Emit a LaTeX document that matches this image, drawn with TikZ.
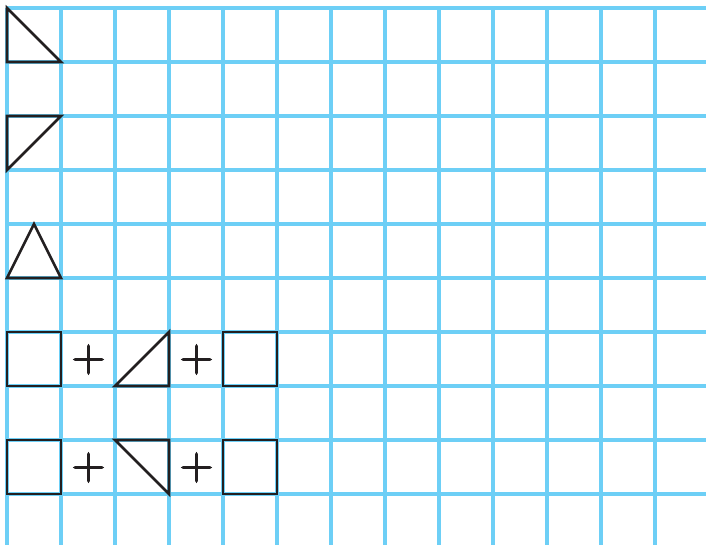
\documentclass[tikz,border=0pt]{standalone}
\usepackage{fontspec}
\usepackage{tikz}
\newfontfamily\plusfont{lmroman10-regular.otf}[FakeBold=2.5]
\definecolor{gridblue}{HTML}{6DCFF6}
\definecolor{ink}{HTML}{231F20}
\tikzset{
  gridline/.style={draw=gridblue,line width=2.3pt},
  figline/.style={draw=ink,line width=1.9pt,line join=miter},
  plussign/.style={text=ink,font=\plusfont\fontsize{33}{33}\selectfont,inner sep=0pt}
}
\begin{document}
\begin{tikzpicture}[x=0.75pt,y=-0.75pt]
\useasboundingbox (0,0) rectangle (706,545);
\fill[white] (0,0) rectangle (706,545);
% grid
\foreach \k in {0,...,12} { \draw[gridline] ({7+54*\k},8) -- ({7+54*\k},545); }
\foreach \k in {0,...,9} { \draw[gridline] (7,{8+54*\k}) -- (706,{8+54*\k}); }
% figures
\draw[figline] (7,8) -- (7,62) -- (61,62) -- cycle;
\draw[figline] (7,116) -- (61,116) -- (7,170) -- cycle;
\draw[figline] (34,224) -- (61,278) -- (7,278) -- cycle;
% row 4
\draw[figline] (7,332) rectangle (61,386);
\node[plussign] (p1) at (88.5,359.5) {+};
\draw[figline] (115,386) -- (169,386) -- (169,332) -- cycle;
\node[plussign] (p2) at (196.5,359.5) {+};
\draw[figline] (223,332) rectangle (277,386);
% row 5
\draw[figline] (7,440) rectangle (61,494);
\node[plussign] (p3) at (88.5,467.5) {+};
\draw[figline] (115,440) -- (169,440) -- (169,494) -- cycle;
\node[plussign] (p4) at (196.5,467.5) {+};
\draw[figline] (223,440) rectangle (277,494);
\end{tikzpicture}
\end{document}
